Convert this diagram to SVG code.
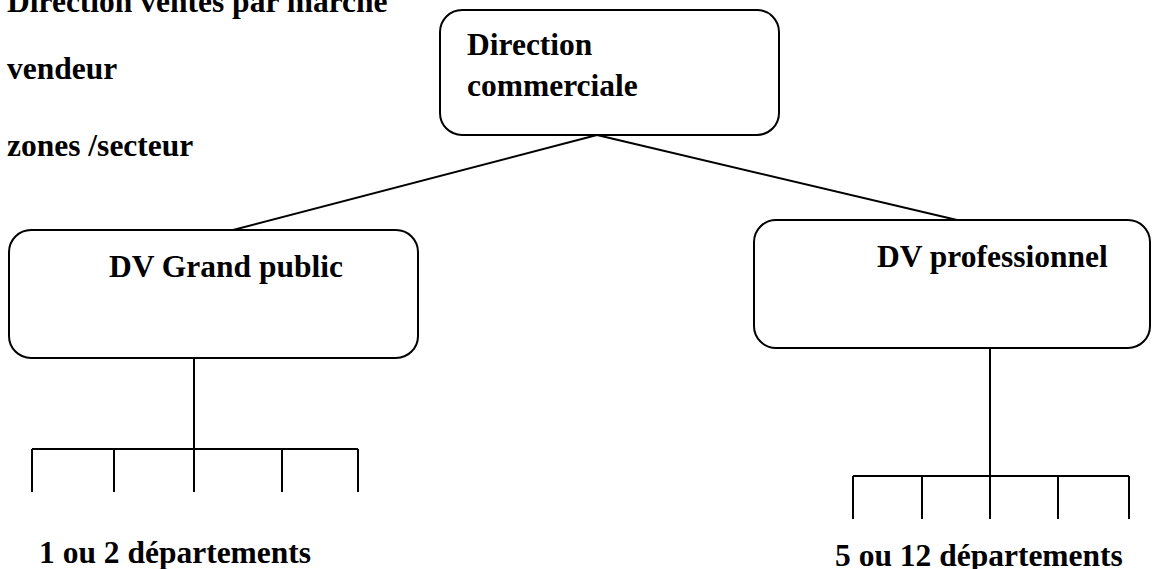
<svg xmlns="http://www.w3.org/2000/svg" width="1155" height="569" viewBox="0 0 1155 569">
  <style>
    .box { fill: #ffffff; stroke: #000000; stroke-width: 2; }
    .link { fill: none; stroke: #000000; stroke-width: 2; }
    .lbl { font-family: "Liberation Serif", "Times New Roman", serif; font-weight: bold; font-size: 31.5px; fill: #000000; }
  </style>
  <rect width="1155" height="569" fill="#ffffff"/>

  <!-- side notes -->
  <g id="notes">
    <text class="lbl" x="7" y="12">Direction ventes par marché</text>
    <text class="lbl" x="7" y="79">vendeur</text>
    <text class="lbl" x="7" y="156">zones /secteur</text>
  </g>

  <!-- connectors -->
  <g id="connectors">
    <line class="link" x1="597" y1="135" x2="233" y2="230"/>
    <line class="link" x1="597" y1="135" x2="957" y2="220"/>
    <!-- Grand public branch -->
    <line class="link" x1="194" y1="358" x2="194" y2="449"/>
    <line class="link" x1="32" y1="449" x2="358" y2="449"/>
    <line class="link" x1="32" y1="449" x2="32" y2="492"/>
    <line class="link" x1="114" y1="449" x2="114" y2="492"/>
    <line class="link" x1="194" y1="449" x2="194" y2="492"/>
    <line class="link" x1="282" y1="449" x2="282" y2="492"/>
    <line class="link" x1="358" y1="449" x2="358" y2="492"/>
    <!-- professionnel branch -->
    <line class="link" x1="990" y1="348" x2="990" y2="476"/>
    <line class="link" x1="853" y1="476" x2="1129" y2="476"/>
    <line class="link" x1="853" y1="476" x2="853" y2="519"/>
    <line class="link" x1="922" y1="476" x2="922" y2="519"/>
    <line class="link" x1="990" y1="476" x2="990" y2="519"/>
    <line class="link" x1="1058" y1="476" x2="1058" y2="519"/>
    <line class="link" x1="1129" y1="476" x2="1129" y2="519"/>
  </g>

  <g id="direction-commerciale">
    <rect class="box" x="440" y="10" width="339" height="125" rx="22" ry="22"/>
    <text class="lbl" x="467" y="55">Direction</text>
    <text class="lbl" x="467" y="96">commerciale</text>
  </g>

  <g id="dv-grand-public">
    <rect class="box" x="9" y="230" width="409" height="128" rx="22" ry="22"/>
    <text class="lbl" x="109" y="277">DV Grand public</text>
  </g>

  <g id="dv-professionnel">
    <rect class="box" x="754" y="220" width="396" height="128" rx="22" ry="22"/>
    <text class="lbl" x="877" y="267">DV professionnel</text>
  </g>

  <g id="labels">
    <text class="lbl" x="39" y="563">1 ou 2 départements</text>
    <text class="lbl" x="835" y="566">5 ou 12 départements</text>
  </g>
</svg>
